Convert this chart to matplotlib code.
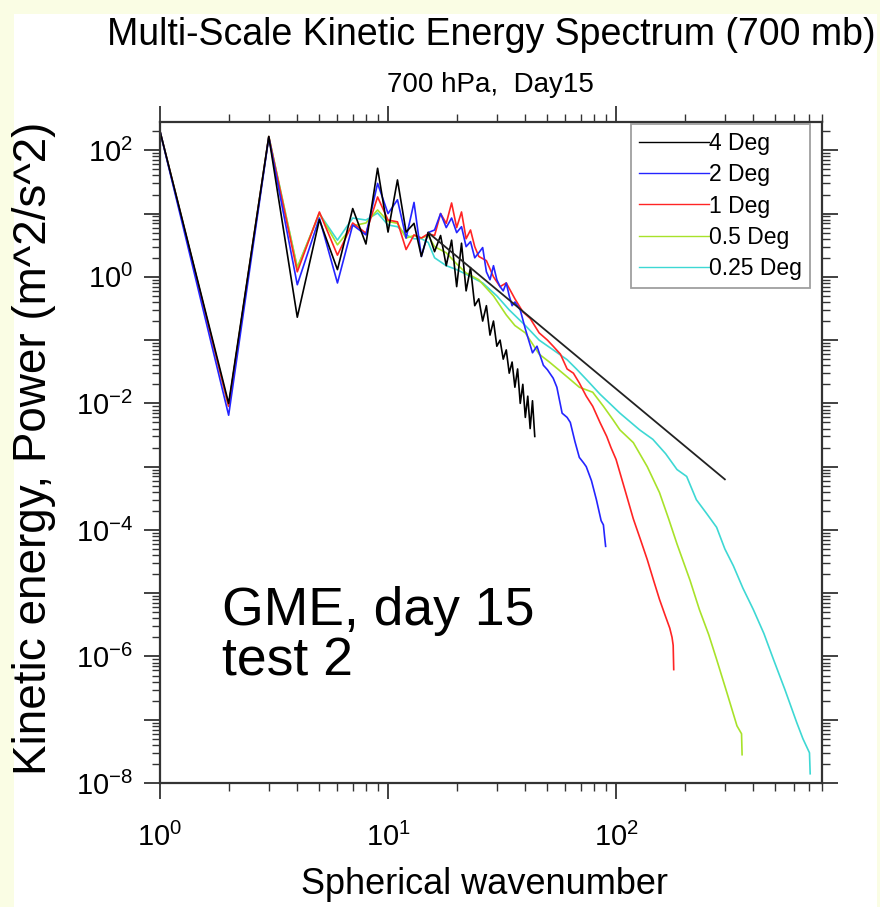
import numpy as np
import matplotlib
matplotlib.use("Agg")
import matplotlib.pyplot as plt
from matplotlib.ticker import LogLocator, FuncFormatter, NullFormatter
from matplotlib.patches import Rectangle

plt.rcParams['font.family'] = ['Liberation Sans', 'DejaVu Sans']
plt.rcParams['mathtext.fontset'] = 'custom'
plt.rcParams['mathtext.rm'] = 'Liberation Sans'
plt.rcParams['mathtext.it'] = 'Liberation Sans:italic'

# spectra (wavenumber, power)
k_4deg = list(range(1, 45))
e_4deg = [200, 0.010, 165, 0.23, 8, 1.3, 12, 3.3, 52, 5.1,
          34, 5.1, 7, 2.1, 5, 2.5, 4.5, 1.5, 3.8, 0.7,
          3.4, 0.6, 1.4, 0.35, 0.45, 0.2, 0.35, 0.12, 0.2, 0.08,
          0.1, 0.05, 0.07, 0.03, 0.045, 0.018, 0.035, 0.01, 0.02, 0.006,
          0.013, 0.004, 0.011, 0.003]

k_2deg = list(range(1, 37)) + [38, 40, 43, 45, 48, 50, 53, 55, 58, 61, 63, 66, 69, 72, 74, 78, 82, 86, 88, 89, 90]
e_2deg = [200, 0.0065, 160, 0.75, 8.5, 0.8, 6.6, 4.6, 30, 10,
          16.5, 4.1, 15, 2.1, 5, 5.5, 10, 6, 8.5, 5,
          6.2, 3, 3.6, 2, 2.4, 2.9, 1.2, 0.9, 1.5, 0.9,
          0.7, 0.6, 0.8, 0.5, 0.35, 0.4,
          0.3, 0.15, 0.063, 0.08, 0.04, 0.034, 0.025, 0.018, 0.007, 0.006,
          0.005, 0.0025, 0.0014, 0.00115, 0.001, 0.0006, 0.0003, 0.00014, 0.00012, 0.00008, 0.000055]

k_1deg = list(range(1, 26)) + [27, 29, 31, 33, 36, 39, 42, 46, 50, 53,
                               57, 61, 65, 69, 74, 79, 85, 91, 95, 100,
                               104, 110, 119, 128, 137, 146, 155, 164, 172, 176, 178, 179]
e_1deg = [200, 0.009, 165, 1.2, 10.6, 2.2, 7.1, 4.9, 18.3, 7.9,
          7.4, 2.7, 4.6, 4.1, 4.8, 4.5, 10, 7, 14.7, 6,
          10.6, 4, 5.5, 3, 2.1,
          1.8, 1.0, 0.7, 0.8, 0.45, 0.28, 0.22, 0.13, 0.1, 0.08,
          0.06, 0.035, 0.03, 0.021, 0.013, 0.009, 0.005, 0.003, 0.002, 0.0013,
          0.0008, 0.0004, 0.00015, 0.00007, 0.000034, 0.000016, 0.000008, 0.0000045, 0.0000028, 0.000002,
          0.0000015, 0.00000062]

k_05deg = list(range(1, 17)) + [18, 20, 22, 25, 29, 33, 36, 40, 46, 51,
                                56, 62, 69, 79, 88, 97, 104, 119, 137, 155,
                                170, 185, 211, 232, 255, 276, 306, 339, 355, 357]
e_05deg = [200, 0.009, 165, 1.4, 10, 3.2, 6.4, 7.1, 11.4, 7.5,
           7, 4.1, 4.5, 4.1, 4.5, 3.0,
           2.4, 1.6, 1.15, 0.9, 0.5, 0.25, 0.17, 0.13, 0.06, 0.045,
           0.034, 0.025, 0.018, 0.015, 0.009, 0.0055, 0.0038, 0.0024, 0.001, 0.00039,
           0.00015, 0.00006, 0.000016, 0.0000055, 0.0000022, 0.0000009, 0.00000027, 0.00000008, 0.00000006, 0.000000028]

k_025deg = list(range(1, 17)) + [18, 20, 22, 26, 30, 34, 40, 46, 53, 61,
                                 67, 74, 85, 97, 104, 127, 145, 165, 185, 204,
                                 225, 250, 276, 300, 327, 360, 400, 445, 490, 550,
                                 620, 660, 705, 710]
e_025deg = [200, 0.009, 165, 1.4, 10, 3.8, 8.5, 7.9, 10.2, 6.6,
            6.2, 4.6, 4.0, 4.0, 3.5, 2.0,
            1.5, 1.3, 1.1, 0.8, 0.5, 0.3, 0.17, 0.1, 0.07, 0.049,
            0.035, 0.024, 0.014, 0.0089, 0.007, 0.0038, 0.0027, 0.0016, 0.0009, 0.0007,
            0.0003, 0.00018, 0.00011, 0.00005, 0.000027, 0.000012, 0.0000055, 0.0000023, 0.0000009, 0.0000003,
            0.00000009, 0.00000005, 0.00000003, 0.000000014]

# k^-3 reference line
k_ref = [15, 300]
e_ref = [5.0, 6.3e-4]

labels = ["4 Deg", "2 Deg", "1 Deg", "0.5 Deg", "0.25 Deg"]
colors = ["black", "#2424ff", "#ff2424", "#a8e22a", "#3ed8d4"]

fig = plt.figure(figsize=(8.8, 9.07), dpi=100, facecolor="#fafde4")
fig.add_artist(Rectangle((14 / 880, 0), (877 - 14) / 880, (907 - 14) / 907,
                         transform=fig.transFigure, facecolor="white",
                         edgecolor="none", zorder=-10))

ax = fig.add_axes([160 / 880, (907 - 783) / 907, (822 - 160) / 880, (783 - 122) / 907])

series = [(k_4deg, e_4deg), (k_2deg, e_2deg), (k_1deg, e_1deg),
          (k_05deg, e_05deg), (k_025deg, e_025deg)]
handles = []
# draw finest first so the coarse ones sit on top
for i in [4, 3, 2, 1, 0]:
    kk, ee = series[i]
    ln, = ax.plot(kk, ee, color=colors[i], lw=1.2, label=labels[i])
    handles.append(ln)
handles = handles[::-1]
ax.plot(k_ref, e_ref, color="#222222", lw=1.3)

ax.set_xscale("log")
ax.set_yscale("log")
ax.set_xlim(1, 800)
ax.set_ylim(1e-8, 280)

ax.xaxis.set_major_locator(LogLocator(base=10, numticks=10))
ax.xaxis.set_minor_locator(LogLocator(base=10, subs=range(2, 10), numticks=20))
ax.yaxis.set_major_locator(LogLocator(base=10, numticks=20))
ax.yaxis.set_minor_locator(LogLocator(base=10, subs=range(2, 10), numticks=40))


def xfmt(v, pos):
    return r"10$^{%d}$" % round(np.log10(v))


def yfmt(v, pos):
    # NCL only labels every other decade on this axis
    p = round(np.log10(v))
    if p % 2:
        return ""
    return r"10$^{%d}$" % p


ax.xaxis.set_major_formatter(FuncFormatter(xfmt))
ax.yaxis.set_major_formatter(FuncFormatter(yfmt))
ax.xaxis.set_minor_formatter(NullFormatter())
ax.yaxis.set_minor_formatter(NullFormatter())

ax.tick_params(which="both", direction="out", top=True, right=True, color="#333333")
ax.tick_params(which="major", length=11.5, width=1.3, labelsize=21)
ax.tick_params(which="minor", length=5.8, width=1.0)
ax.tick_params(axis="x", which="major", pad=17)
ax.tick_params(axis="y", which="major", pad=8)
for s in ax.spines.values():
    s.set_linewidth(1.6)
    s.set_color("#333333")

leg = ax.legend(handles=handles, loc="upper right", bbox_to_anchor=(0.982, 0.997),
                fontsize=16.5, frameon=True, fancybox=False, handlelength=3.05,
                handletextpad=0.0, borderpad=0.35, labelspacing=0.36, borderaxespad=0)
leg.get_frame().set_edgecolor("#888888")
leg.get_frame().set_linewidth(1.3)
for h in leg.legend_handles:
    h.set_linewidth(1.0)

fig.text(491 / 880, 1 - 35 / 907, "Multi-Scale Kinetic Energy Spectrum (700 mb)",
         ha="center", va="center", fontsize=27)
fig.text(490 / 880, 1 - 85 / 907, "700 hPa,  Day15", ha="center", va="center", fontsize=20)
fig.text(484 / 880, 1 - 885 / 907, "Spherical wavenumber", ha="center", va="center", fontsize=26)
fig.text(34 / 880, 1 - 448 / 907, "Kinetic energy, Power (m^2/s^2)", ha="center", va="center",
         rotation=90, fontsize=33)

ax.text(0.094, 0.222, "GME, day 15\ntest 2", transform=ax.transAxes, fontsize=38.5,
        ha="left", va="center", linespacing=1.0)

fig.savefig("out.png", dpi=100, facecolor=fig.get_facecolor())
